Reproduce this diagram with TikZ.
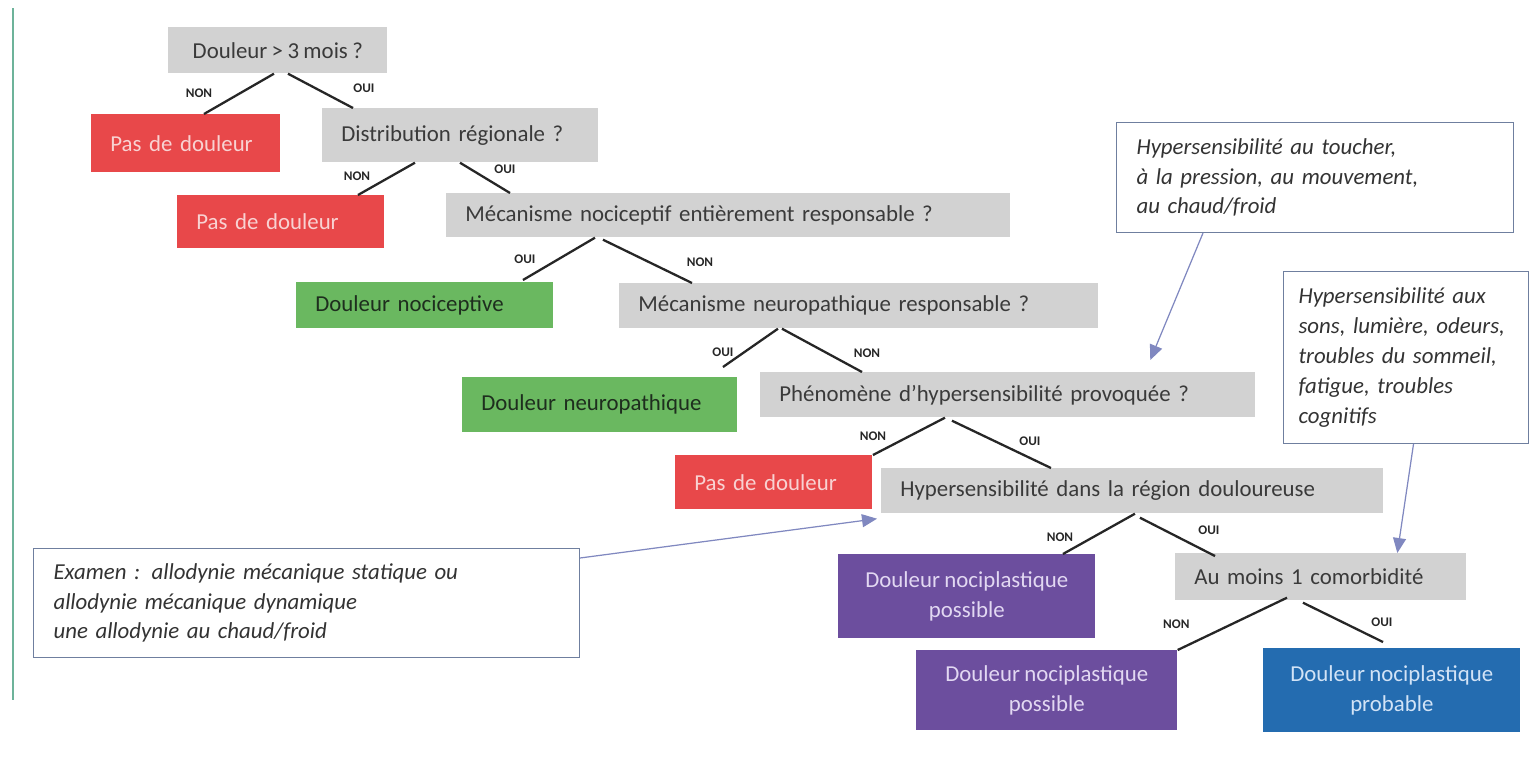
\documentclass[tikz,border=0pt]{standalone}
\usepackage{fontspec}
\setmainfont{Carlito}[WordSpace=0.85]
\usetikzlibrary{arrows.meta,positioning}

\definecolor{qgray}{HTML}{D2D2D2}
\definecolor{qtxt}{HTML}{3A3A3A}
\definecolor{rfill}{HTML}{E8484A}
\definecolor{rtxt}{HTML}{F8D2D2}
\definecolor{gfill}{HTML}{6AB860}
\definecolor{gtxt}{HTML}{1E2E1E}
\definecolor{pfill}{HTML}{6C4E9E}
\definecolor{ptxt}{HTML}{E2D8F2}
\definecolor{bfill}{HTML}{246CB0}
\definecolor{btxt}{HTML}{D2E3F6}
\definecolor{nbord}{HTML}{6F7F9F}
\definecolor{arcol}{HTML}{8088C0}
\definecolor{leftcol}{HTML}{6DB39A}

\begin{document}
\begin{tikzpicture}[x=0.02cm,y=-0.02cm,
   q/.style={fill=qgray,text=qtxt,anchor=north west,inner xsep=0.38cm,inner ysep=0pt,align=left,font=\fontsize{13}{17}\selectfont},
   r/.style={q,fill=rfill,text=rtxt},
   g/.style={q,fill=gfill,text=gtxt},
   p/.style={fill=pfill,text=ptxt,anchor=north west,inner sep=0pt,align=center,font=\fontsize{13}{17}\selectfont},
   pb/.style={p,fill=bfill,text=btxt},
   note/.style={draw=nbord,line width=0.6pt,fill=white,anchor=north west,inner xsep=0.4cm,inner ysep=0pt,align=left,font=\fontsize{13}{17}\selectfont\itshape,text=black!80},
   e/.style={line width=1.3pt,black!85},
   lbl/.style={font=\fontsize{7.5}{8}\selectfont\bfseries,text=black!85,inner sep=0pt},
   ar/.style={draw=arcol,line width=0.7pt,-{Triangle[length=0.3cm,width=0.26cm]}}]

   \fill[white] (0,0) rectangle (1530,769);
   \useasboundingbox (0,0) rectangle (1530,769);
   \draw[leftcol,line width=1.5pt] (13,8) -- (13,700);

   % questions
   \node[q,fill=qgray,align=center,inner sep=0pt,minimum width=4.38cm,minimum height=0.92cm] (n1) at (168,27) {Douleur > 3 mois ?};
   \node[q,text width=4.76cm,minimum height=1.08cm] (n2) at (322,108) {Distribution régionale ?};
   \node[q,text width=10.52cm,minimum height=0.88cm] (n3) at (446,193) {Mécanisme nociceptif entièrement responsable ?};
   \node[q,text width=8.82cm,minimum height=0.9cm] (n4) at (619,283) {Mécanisme neuropathique responsable ?};
   \node[q,text width=9.14cm,minimum height=0.9cm] (n5) at (760,372) {Phénomène d’hypersensibilité provoquée ?};
   \node[q,text width=9.28cm,minimum height=0.9cm] (n6) at (881,468) {Hypersensibilité dans la région douloureuse};
   \node[q,text width=5.06cm,minimum height=0.94cm] (n7) at (1175,553) {Au moins 1 comorbidité};

   % answers
   \node[r,text width=3.02cm,minimum height=1.16cm] (r1) at (91,114) {Pas de douleur};
   \node[r,text width=3.38cm,minimum height=1.06cm] (r2) at (177,195) {Pas de douleur};
   \node[r,text width=3.18cm,minimum height=1.08cm] (r3) at (675,455) {Pas de douleur};
   \node[g,text width=4.38cm,minimum height=0.92cm] (g1) at (296,282) {Douleur nociceptive};
   \node[g,text width=4.74cm,minimum height=1.1cm] (g2) at (462,377) {Douleur neuropathique};
   \node[p,minimum width=5.14cm,minimum height=1.68cm] (p1) at (838,554) {Douleur nociplastique\\possible};
   \node[p,minimum width=5.22cm,minimum height=1.6cm] (p2) at (916,650) {Douleur nociplastique\\possible};
   \node[pb,minimum width=5.14cm,minimum height=1.68cm] (b1) at (1263,648) {Douleur nociplastique\\probable};

   % notes
   \node[note,text width=7.14cm,minimum height=2.2cm] (t1) at (1116,122) {Hypersensibilité au toucher,\\à la pression, au mouvement,\\au chaud/froid};
   \node[note,inner xsep=0.3cm,text width=4.3cm,minimum height=3.44cm] (t2) at (1283,271) {Hypersensibilité aux\\sons, lumière, odeurs,\\troubles du sommeil,\\fatigue, troubles\\cognitifs};
   \node[note,text width=10.12cm,minimum height=2.18cm] (t3) at (33,548) {Examen : allodynie mécanique statique ou\\allodynie mécanique dynamique\\une allodynie au chaud/froid};

   \draw[e] ([xshift=2.12cm]n1.south west) -- node[lbl,xshift=-0.8cm,yshift=0.02cm]{NON} ([xshift=2.26cm]r1.north west);
   \draw[e] ([xshift=2.4cm]n1.south west) -- node[lbl,xshift=0.87cm,yshift=0.05cm]{OUI} ([xshift=0.62cm]n2.north west);
   \draw[e] ([xshift=1.86cm]n2.south west) -- node[lbl,xshift=-0.59cm,yshift=0.06cm]{NON} ([xshift=3.62cm]r2.north west);
   \draw[e] ([xshift=2.76cm]n2.south west) -- node[lbl,xshift=0.4cm,yshift=0.17cm]{OUI} ([xshift=1.28cm]n3.north west);
   \draw[e] ([xshift=2.98cm]n3.south west) -- node[lbl,xshift=-0.68cm]{OUI} ([xshift=4.54cm,yshift=0.04cm]g1.north west);
   \draw[e] ([xshift=3.14cm,yshift=-0.04cm]n3.south west) -- node[lbl,xshift=1.05cm,yshift=-0.02cm]{NON} ([xshift=1.46cm]n4.north west);
   \draw[e] ([xshift=3.18cm]n4.south west) -- node[lbl,xshift=-0.55cm,yshift=-0.08cm]{OUI} ([xshift=5.22cm,yshift=0.2cm]g2.north west);
   \draw[e] ([xshift=3.26cm]n4.south west) -- node[lbl,xshift=0.9cm,yshift=-0.06cm]{NON} ([xshift=2.04cm]n5.north west);
   \draw[e] ([xshift=3.7cm]n5.south west) -- node[lbl,xshift=-0.72cm]{NON} ([xshift=3.96cm]r3.north west);
   \draw[e] ([xshift=3.84cm,yshift=-0.06cm]n5.south west) -- node[lbl,xshift=0.57cm,yshift=0.06cm]{OUI} ([xshift=3.4cm]n6.north west);
   \draw[e] ([xshift=5.08cm]n6.south west) -- node[lbl,xshift=-0.78cm,yshift=-0.06cm]{NON} ([xshift=4.5cm]p1.north west);
   \draw[e] ([xshift=5.18cm,yshift=-0.08cm]n6.south west) -- node[lbl,xshift=0.63cm,yshift=0.13cm]{OUI} ([xshift=0.8cm,yshift=-0.06cm]n7.north west);
   \draw[e] ([xshift=2.24cm,yshift=0.06cm]n7.south west) -- node[lbl,xshift=-1.12cm]{NON} (p2.north east);
   \draw[e] ([xshift=2.56cm,yshift=-0.04cm]n7.south west) -- node[lbl,xshift=0.78cm]{OUI} ([xshift=2.4cm,yshift=0.12cm]b1.north west);

   \draw[ar] ([xshift=1.74cm]t1.south west) -- ([xshift=2.85cm,yshift=0.24cm]n5.north);
   \draw[ar] ([xshift=0.15cm]t2.south) -- ([xshift=1.53cm]n7.north);
   \draw[ar] ([yshift=-0.2cm]t3.north east) -- ([xshift=-0.08cm,yshift=-0.1cm]n6.south west);
\end{tikzpicture}
\end{document}
